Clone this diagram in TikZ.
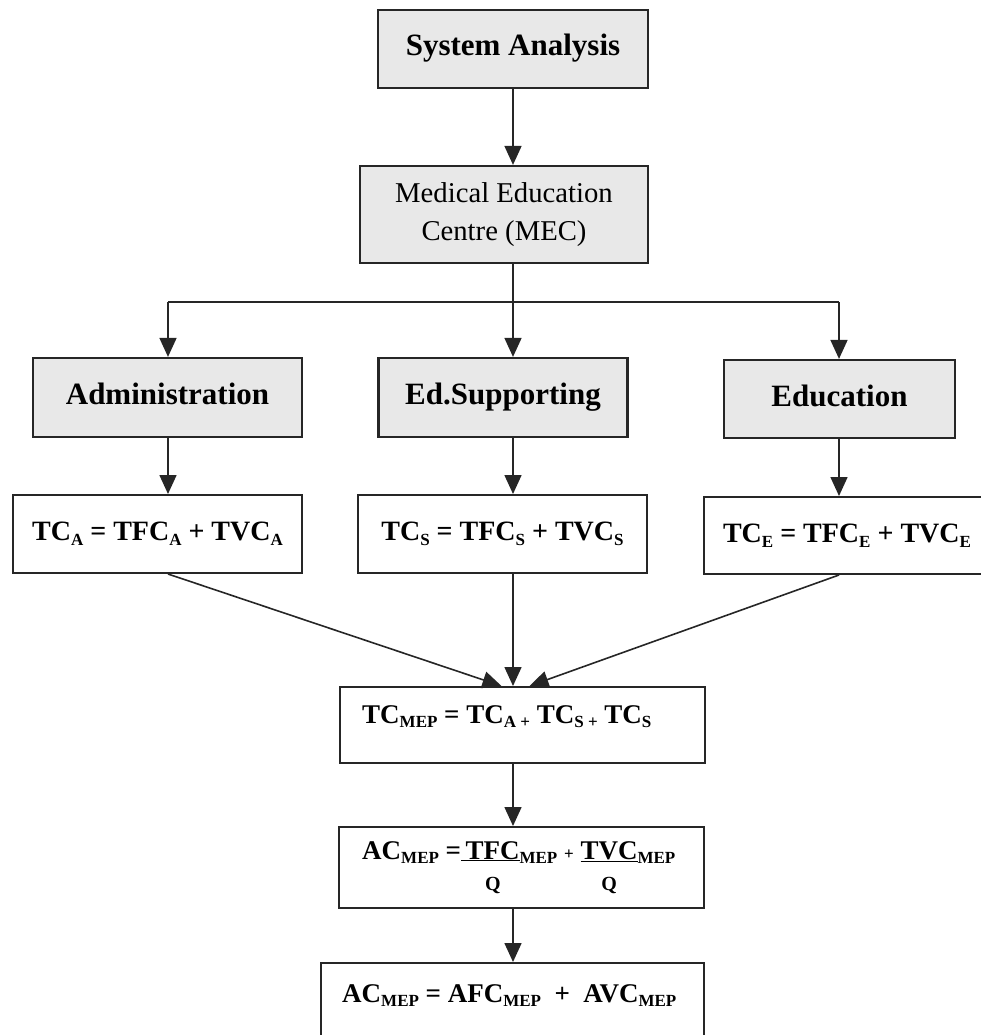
\documentclass[tikz,border=0pt]{standalone}
\usepackage{fontspec}
\setmainfont{Liberation Serif}
\usetikzlibrary{arrows.meta,calc}
\newcommand{\subx}[1]{\raisebox{-0.18em}{\fontsize{17}{17}\selectfont #1}}
\newcommand{\subq}[1]{{\fontsize{17}{17}\selectfont #1}}
\tikzset{
  shaded/.style={draw=black!85, line width=2.2pt, fill=black!9, inner sep=0pt,
    font=\bfseries\fontsize{31}{36}\selectfont},
  title/.style={shaded, text height=21pt, text depth=7pt},
  plainbox/.style={draw=black!85, line width=2pt, fill=white, inner sep=0pt,
    font=\bfseries\fontsize{28}{33}\selectfont},
  formula/.style={inner sep=0pt, font=\bfseries\fontsize{27}{33}\selectfont},
  conn/.style={line width=1.6pt, draw=black!85},
  arr/.style={conn, -{Triangle[length=19pt,width=17pt]}}
}
\begin{document}
\begin{tikzpicture}[x=1pt,y=-1pt]
\useasboundingbox (0,0) rectangle (981,1035);
\clip (0,0) rectangle (981,1035);
% boxes
\node[title, minimum width=270, minimum height=78] (sa) at (513,49) {System Analysis};
\node[shaded, minimum width=288, minimum height=97, align=center,
  font=\fontsize{28.7}{38}\selectfont] (mec) at (504,214.5) {Medical Education\\Centre (MEC)};
\node[title, minimum width=269, minimum height=79] (adm) at (167.5,397.5) {Administration};
\node[title, minimum width=249, minimum height=79] (eds) at (503,397.5) {Ed.Supporting};
\node[title, minimum width=231, minimum height=78] (edu) at (839.5,399) {Education};
\node[plainbox, minimum width=289, minimum height=78] (tca) at (157.5,534)
  {TC\subx{A} = TFC\subx{A} + TVC\subx{A}};
\node[plainbox, minimum width=289, minimum height=78] (tcs) at (502.5,534)
  {TC\subx{S} = TFC\subx{S} + TVC\subx{S}};
\node[plainbox, minimum width=286, minimum height=77] (tce) at (847,535.5)
  {TC\subx{E} = TFC\subx{E} + TVC\subx{E}};
\node[plainbox, minimum width=365, minimum height=76] (tcm) at (522.5,725) {};
\node[formula, anchor=base west] (tcmt) at (362,723)
  {TC\subx{MEP} = TC\subx{A +} TC\subx{S +} TC\subx{S}};
\node[plainbox, minimum width=365, minimum height=81] (ac) at (521.5,867.5) {};
\node[formula, anchor=base west] (act) at (362,859)
  {\begin{tabular}[t]{@{}l@{}c@{}l@{}c@{}l@{}}
   AC\subx{MEP} = & \underline{\,TFC} & \subx{MEP} \subq{+}\ \ & \underline{TVC} & \subx{MEP}\\[-2pt]
   & {\fontsize{20}{20}\selectfont\ Q} & & {\fontsize{20}{20}\selectfont Q} &
   \end{tabular}};
\node[plainbox, minimum width=383, minimum height=100] (last) at (512.5,1013) {};
\node[formula, anchor=base west] (lastt) at (342,1002)
  {AC\subx{MEP} = AFC\subx{MEP} \ + \ AVC\subx{MEP}};
% connectors
\coordinate (j) at (513,302);
\coordinate (jl) at (168,302);
\coordinate (jr) at (839,302);
\draw[arr] (j |- sa.south) -- (j |- mec.north);
\draw[conn] (j |- mec.south) -- (j);
\draw[conn] (jl) -- (jr);
\draw[arr] (jl) -- (jl |- adm.north);
\draw[arr] (j) -- (j |- eds.north);
\draw[arr] (jr) -- (jr |- edu.north);
\draw[arr] (jl |- adm.south) -- (jl |- tca.north);
\draw[arr] (j |- eds.south) -- (j |- tcs.north);
\draw[arr] (jr |- edu.south) -- (jr |- tce.north);
\draw[arr] (jl |- tca.south) -- ($(tcm.north)+(-21,0)$);
\draw[arr] (j |- tcs.south) -- (j |- tcm.north);
\draw[arr] (jr |- tce.south) -- ($(tcm.north)+(7,0)$);
\draw[arr] (j |- tcm.south) -- (j |- ac.north);
\draw[arr] (j |- ac.south) -- (j |- last.north);
\end{tikzpicture}
\end{document}
